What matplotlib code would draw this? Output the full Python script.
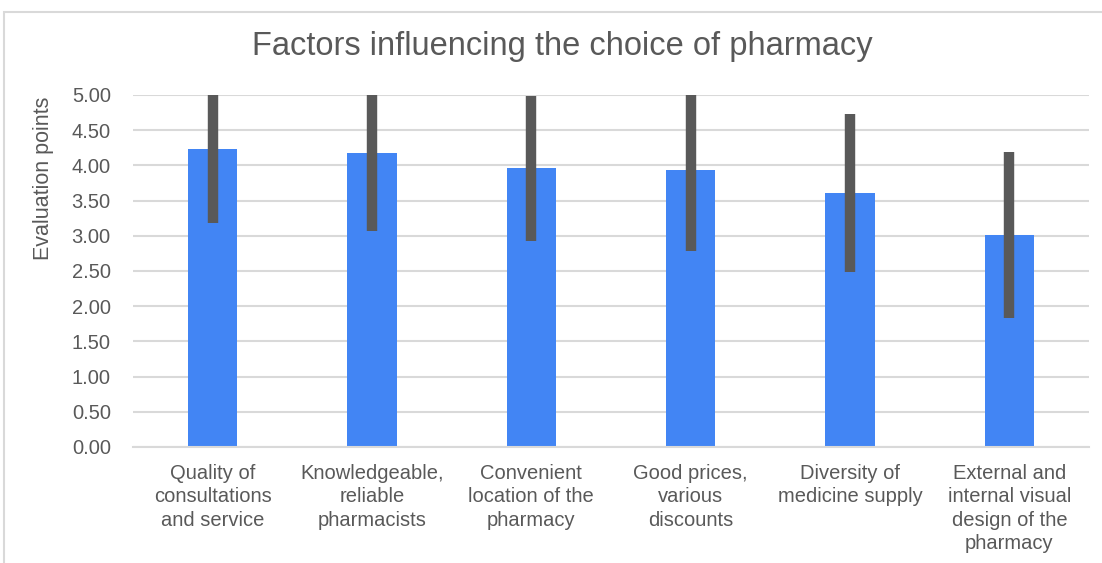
import numpy as np
import matplotlib
matplotlib.use("Agg")
import matplotlib.pyplot as plt
from matplotlib.patches import Rectangle

# data
factors = [
    "Quality of\nconsultations\nand service",
    "Knowledgeable,\nreliable\npharmacists",
    "Convenient\nlocation of the\npharmacy",
    "Good prices,\nvarious\ndiscounts",
    "Diversity of\nmedicine supply",
    "External and\ninternal visual\ndesign of the\npharmacy",
]
mean_points = [4.23, 4.17, 3.96, 3.93, 3.61, 3.01]
std_points = [1.05, 1.10, 1.03, 1.14, 1.12, 1.18]
y_ticks = [0.0, 0.5, 1.0, 1.5, 2.0, 2.5, 3.0, 3.5, 4.0, 4.5, 5.0]

plt.rcParams['font.family'] = ['Liberation Sans', 'DejaVu Sans']
text_color = "#595959"

fig = plt.figure(figsize=(11.02, 5.63), dpi=100)
fig.patches.append(Rectangle((4 / 1102, -0.1), 1.2, (563 - 12) / 563 + 0.1,
                             transform=fig.transFigure, fill=False,
                             edgecolor="#d9d9d9", linewidth=1.5))

ax = fig.add_axes([133 / 1102, (563 - 447) / 563, 956 / 1102, 352 / 563])

x = np.arange(len(factors))
ax.bar(x, mean_points, width=0.31, color="#4285f4", zorder=2)
ax.errorbar(x, mean_points, yerr=std_points, fmt="none", ecolor=text_color,
            elinewidth=7.5, capsize=0, zorder=3)

ax.set_xlim(-0.5, len(factors) - 0.5)
ax.set_ylim(0, 5)
ax.set_yticks(y_ticks)
ax.set_yticklabels([f"{v:.2f}" for v in y_ticks])
ax.set_xticks(x)
ax.set_xticklabels(factors, linespacing=1.3, fontsize=14.5)

ax.yaxis.grid(True, color="#d9d9d9", linewidth=1.5, zorder=0)
ax.set_axisbelow(True)
for side in ["left", "right", "top"]:
    ax.spines[side].set_visible(False)
ax.spines["bottom"].set_color("#d9d9d9")
ax.spines["bottom"].set_linewidth(1.5)
ax.tick_params(axis="both", length=0, colors=text_color)
ax.tick_params(axis="x", pad=12)
ax.tick_params(axis="y", pad=16, labelsize=14.5)

ax.set_ylabel("Evaluation points", color=text_color, fontsize=15.5)
ax.yaxis.set_label_coords(-0.083, 0.764)
fig.text(0.5104, 1 - 47 / 563, "Factors influencing the choice of pharmacy",
         ha="center", va="center", color=text_color, fontsize=23.5)

fig.savefig("out.png", dpi=100)
